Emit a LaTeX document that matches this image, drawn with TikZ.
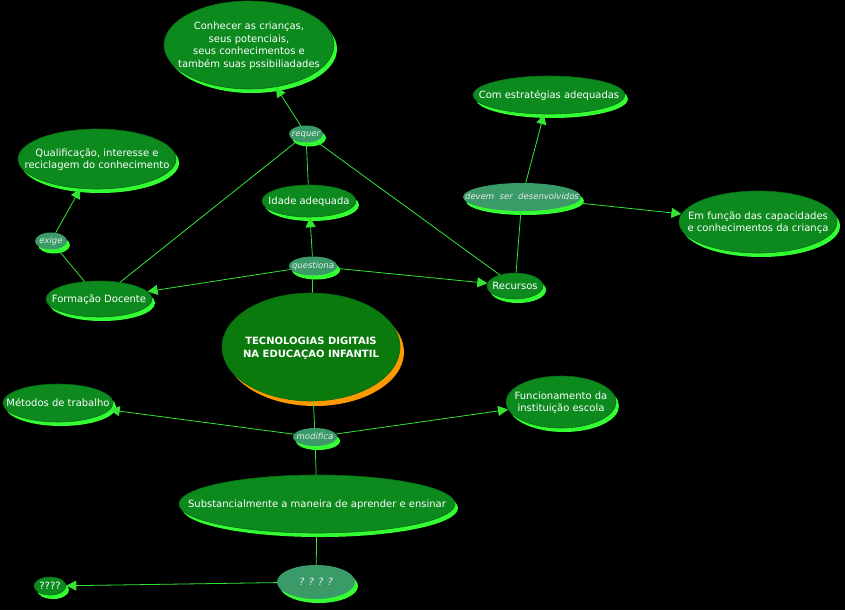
\documentclass[tikz,border=0pt]{standalone}
\usepackage{fontspec}
\setmainfont{DejaVu Sans}
\usetikzlibrary{positioning,arrows.meta,shapes.geometric,shadows}
\definecolor{cmapBack}{HTML}{000000}
\definecolor{cmapConcept}{HTML}{0C8A1E}
\definecolor{cmapConceptEdge}{HTML}{0A6A16}
\definecolor{cmapLink}{HTML}{3A9A68}
\definecolor{cmapGlow}{HTML}{33FF33}
\definecolor{cmapLine}{HTML}{33E633}
\definecolor{cmapOrange}{HTML}{FF9900}
\definecolor{cmapMain}{HTML}{0A7A0C}
% text of fixed-size ellipses (the box is smashed so the size is set by hand)
\newcommand{\cmapText}[1]{\makebox[0pt]{\smash{\raisebox{-0.35em}{\begin{tabular}{@{}c@{}}#1\end{tabular}}}}}
\tikzset{
  cmap concept/.style={
    ellipse, inner sep=0pt,
    fill=cmapConcept, draw=cmapConceptEdge, line width=0.6pt,
    text=white, font=\fontsize{10}{12.5}\selectfont,
    drop shadow={shadow xshift=3pt, shadow yshift=-4pt, fill=cmapGlow, opacity=1},
  },
  cmap link/.style={
    ellipse, inner sep=0pt,
    fill=cmapLink, draw=none,
    text=white!92!black, font=\fontsize{8.5}{10}\selectfont\itshape,
    drop shadow={shadow xshift=3pt, shadow yshift=-4pt, fill=cmapGlow, opacity=1},
  },
  cmap main/.style={
    ellipse, inner sep=0pt,
    fill=cmapMain, draw=cmapConceptEdge, line width=0.6pt,
    text=white, font=\fontsize{10}{13}\selectfont\bfseries,
    drop shadow={shadow xshift=4pt, shadow yshift=-5pt, fill=cmapOrange, opacity=1},
  },
  cmap line/.style={draw=cmapLine, line width=0.8pt},
  cmap arrow/.style={cmap line, -{Triangle[length=10pt, width=10pt]}},
}

\begin{document}
\begin{tikzpicture}[x=1pt, y=-1pt]

\useasboundingbox (0,0) rectangle (845,610);
\fill[cmapBack] (0,0) rectangle (845,610);

% --- CONCEPTS ---
\node[cmap main, minimum width=178pt, minimum height=108pt] (tecno) at (311,347)
  {\cmapText{TECNOLOGIAS DIGITAIS\\ NA EDUCAÇAO INFANTIL}};
\node[cmap concept, minimum width=170pt, minimum height=88pt] (conhecer) at (249,45)
  {\cmapText{Conhecer as crianças,\\seus potenciais,\\seus conhecimentos e\\também suas pssibiliadades}};
\node[cmap concept, minimum width=158pt, minimum height=60pt] (qualif) at (97,159)
  {\cmapText{Qualificação, interesse e\\reciclagem do conhecimento}};
\node[cmap concept, minimum width=106pt, minimum height=36pt] (formacao) at (99,299)
  {\cmapText{Formação Docente}};
\node[cmap concept, minimum width=94pt, minimum height=32pt] (idade) at (309,201)
  {\cmapText{Idade adequada}};
\node[cmap concept, minimum width=56pt, minimum height=26pt] (recursos) at (515,286)
  {\cmapText{Recursos}};
\node[cmap concept, minimum width=152pt, minimum height=38pt] (estrategias) at (549,95)
  {\cmapText{Com estratégias adequadas}};
\node[cmap concept, minimum width=158pt, minimum height=62pt] (capacidades) at (758,222)
  {\cmapText{Em função das capacidades\\e conhecimentos da criança}};
\node[cmap concept, minimum width=110pt, minimum height=38pt] (metodos) at (58,403)
  {\cmapText{Métodos de trabalho}};
\node[cmap concept, minimum width=110pt, minimum height=52pt] (funcion) at (561,402)
  {\cmapText{Funcionamento da\\instituição escola}};
\node[cmap concept, minimum width=276pt, minimum height=58pt] (substanc) at (317,504)
  {\cmapText{Substancialmente a maneira de aprender e ensinar}};
\node[cmap concept, minimum width=32pt, minimum height=18pt] (duvida) at (50,586)
  {\cmapText{????}};

% --- LINKING PHRASES ---
\node[cmap link, minimum width=34pt, minimum height=17pt] (requer) at (306,134) {\cmapText{requer}};
\node[cmap link, minimum width=32pt, minimum height=17pt] (exige) at (51,241) {\cmapText{exige}};
\node[cmap link, minimum width=48pt, minimum height=19pt] (questiona) at (313,266) {\cmapText{questiona}};
\node[cmap link, minimum width=118pt, minimum height=28pt] (devem) at (522,197)
  {\cmapText{devem\ \ ser\ \ desenvolvidos}};
\node[cmap link, minimum width=44pt, minimum height=18pt] (modifica) at (315,437) {\cmapText{modifica}};
\node[cmap link, minimum width=78pt, minimum height=34pt, font=\fontsize{10}{12}\selectfont\itshape] (interroga) at (316,582)
  {\cmapText{? ? ? ?}};

% --- CONNECTORS ---
\draw[cmap line] (tecno) -- (questiona);
\draw[cmap arrow] (questiona) -- (idade);
\draw[cmap arrow] (questiona) -- (formacao);
\draw[cmap arrow] (questiona) -- (recursos);

\draw[cmap line] (formacao) -- (requer);
\draw[cmap line] (idade) -- (requer);
\draw[cmap line] (recursos) -- (requer);
\draw[cmap arrow] (requer) -- (conhecer);

\draw[cmap line] (formacao) -- (exige);
\draw[cmap arrow] (exige) -- (qualif);

\draw[cmap line] (recursos) -- (devem);
\draw[cmap arrow] (devem) -- (estrategias);
\draw[cmap arrow] (devem) -- (capacidades);

\draw[cmap line] (tecno) -- (modifica);
\draw[cmap arrow] (modifica) -- (metodos);
\draw[cmap arrow] (modifica) -- (funcion);
\draw[cmap line] (modifica) -- (substanc);

\draw[cmap line] (substanc) -- (interroga);
\draw[cmap arrow] (interroga) -- (duvida);

\end{tikzpicture}
\end{document}
